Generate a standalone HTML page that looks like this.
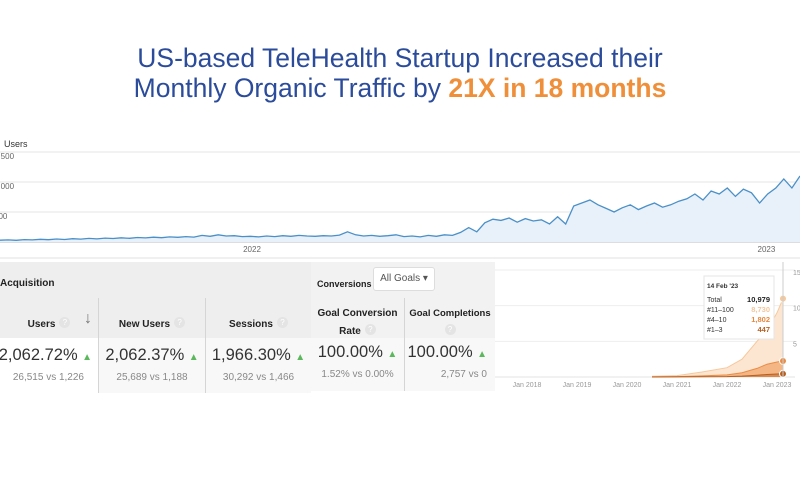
<!DOCTYPE html>
<html><head><meta charset="utf-8">
<style>
body{margin:0;width:800px;height:480px;background:#fff;overflow:hidden;font-family:"Liberation Sans",sans-serif;position:relative}
.title{position:absolute;left:0;width:800px;text-align:center;color:#2b4b9b;font-size:26.5px;line-height:30px;white-space:nowrap}
.cell{position:absolute;box-sizing:border-box;text-align:center;color:#222;white-space:nowrap}
.hd{font-weight:bold;font-size:10px}
.big{font-size:16.5px;color:#333}
.sm{font-size:10px;color:#888}
.q{display:inline-block;width:11px;height:11px;border-radius:50%;background:#e4e4e4;color:#fff;font-size:8px;line-height:11px;vertical-align:middle;margin-left:4px}
.up{color:#5cb85c;font-size:10px}
</style></head><body>
<div class="title" style="top:43px">US-based TeleHealth Startup Increased their</div>
<div class="title" style="top:73px">Monthly Organic Traffic by <b style="color:#ef8f3a">21X in 18 months</b></div>

<svg id="main" width="800" height="262" style="position:absolute;left:0;top:0"></svg>

<div>
<div class="cell" style="left:0;top:262px;width:311px;height:36px;background:#eeeeee;text-align:left;padding:11px 0 0 0"><span class="hd">Acquisition</span></div>
<div class="cell" style="left:311px;top:262px;width:184px;height:36px;background:#f2f2f2;text-align:left;padding:12px 0 0 6px"><span class="hd" style="font-size:9px">Conversions</span></div>
<div class="cell" style="left:373px;top:267px;width:62px;height:24px;background:#fff;border:1px solid #ddd;border-radius:3px;font-size:10px;color:#555;line-height:22px">All Goals &#9662;</div>

<div class="cell" style="left:0;top:298px;width:98px;height:40px;background:#eeeeee;padding-top:16px"><span class="hd">Users</span><span class="q">?</span><span style="position:absolute;right:6px;top:12px;color:#777">&#8595;</span></div>
<div class="cell" style="left:98px;top:298px;width:107px;height:40px;background:#eeeeee;border-left:1px solid #d5d5d5;padding-top:16px"><span class="hd">New Users</span><span class="q">?</span></div>
<div class="cell" style="left:205px;top:298px;width:106px;height:40px;background:#eeeeee;border-left:1px solid #d5d5d5;padding-top:16px"><span class="hd">Sessions</span><span class="q">?</span></div>
<div class="cell" style="left:311px;top:298px;width:93px;height:40px;background:#f2f2f2;padding-top:6px;line-height:16px"><span class="hd">Goal Conversion</span><br><span class="hd">Rate</span><span class="q">?</span></div>
<div class="cell" style="left:404px;top:298px;width:91px;height:40px;background:#f2f2f2;border-left:1px solid #d5d5d5;padding-top:6px;line-height:16px"><span class="hd" style="font-size:9.5px">Goal Completions</span><br><span class="q" style="margin:0">?</span></div>

<div class="cell" style="left:-20px;top:338px;width:118px;height:55px;background:#fff;padding-top:8px;text-align:right;padding-right:6px;line-height:18px"><span class="big">2,062.72%</span> <span class="up">&#9650;</span><br><span class="sm" style="margin-right:8px">26,515 vs 1,226</span></div>
<div class="cell" style="left:98px;top:338px;width:107px;height:55px;background:#f8f8f8;border-left:1px solid #d5d5d5;padding-top:8px;line-height:18px"><span class="big">2,062.37%</span> <span class="up">&#9650;</span><br><span class="sm">25,689 vs 1,188</span></div>
<div class="cell" style="left:205px;top:338px;width:106px;height:55px;background:#f8f8f8;border-left:1px solid #d5d5d5;padding-top:8px;line-height:18px"><span class="big">1,966.30%</span> <span class="up">&#9650;</span><br><span class="sm">30,292 vs 1,466</span></div>
<div class="cell" style="left:311px;top:338px;width:93px;height:53px;background:#f8f8f8;padding-top:5px;line-height:18px"><span class="big">100.00%</span> <span class="up">&#9650;</span><br><span class="sm">1.52% vs 0.00%</span></div>
<div class="cell" style="left:404px;top:338px;width:91px;height:53px;background:#f8f8f8;border-left:1px solid #d5d5d5;padding-top:5px;text-align:right;padding-right:8px;line-height:18px"><span class="big">100.00%</span> <span class="up">&#9650;</span><br><span class="sm">2,757 vs 0</span></div>
</div>

<svg id="kw" width="305" height="135" style="position:absolute;left:495px;top:260px"></svg>

<script>
const userValues=[30,35,28,40,35,45,38,50,42,55,48,60,52,65,58,70,62,75,68,80,72,85,78,90,82,110,95,120,100,105,90,95,85,100,90,105,95,110,100,95,105,100,115,170,120,100,110,95,105,120,90,100,85,110,95,120,110,160,240,170,320,380,360,400,330,390,350,370,300,420,300,600,650,700,620,560,500,570,620,540,600,650,580,620,680,720,800,700,850,800,900,760,880,820,650,800,900,1050,900,1100];
const userTicks=["1,500","1,000","500"];
const userTickVals=[1500,1000,500];
const yearLabels=["2022","2023"];
const yearPos=[0.315,0.958];

const kwDates=[2020.5,2021,2021.5,2022,2022.3,2022.6,2022.8,2023,2023.12];
const kwTotal=[100,200,700,1300,2500,5000,6500,9000,10979];
const kwTop10=[20,50,150,300,600,1200,1800,2100,2249];
const kwTop3=[5,10,30,60,120,250,350,420,447];
const kwYears=["Jan 2018","Jan 2019","Jan 2020","Jan 2021","Jan 2022","Jan 2023"];
const kwTicks=["15","10","5"];
const kwTickVals=[15000,10000,5000];

const NS="http://www.w3.org/2000/svg";
function mk(p,tag,attrs){const e=document.createElementNS(NS,tag);for(const k in attrs)e.setAttribute(k,attrs[k]);p.appendChild(e);return e;}

const m=document.getElementById('main');
const base=242, perPx=500/30;
const ym=v=>base-v/perPx;
const xm=i=>i*800/(userValues.length-1);
let t=mk(m,'text',{x:4,y:147,'font-size':9,fill:'#333'});t.textContent='Users';

userTickVals.forEach((v,i)=>{
 const g=mk(m,'line',{x1:0,x2:800,y1:ym(v),y2:ym(v),stroke:'#e6e6e6'});
 
 const l=mk(m,'text',{x:-6,y:ym(v)+7,'font-size':8,fill:'#666'});l.textContent=userTicks[i];
 
});
mk(m,'line',{x1:0,x2:800,y1:base,y2:base,stroke:'#bbb'});
let d='M0,'+base;userValues.forEach((v,i)=>d+=' L'+xm(i).toFixed(1)+','+ym(v).toFixed(1));
const area=mk(m,'path',{d:d+' L800,'+base+' Z',fill:'#e8f0f9'});

let d2='';userValues.forEach((v,i)=>d2+=(i?' L':'M')+xm(i).toFixed(1)+','+ym(v).toFixed(1));
const ln=mk(m,'path',{d:d2,fill:'none',stroke:'#4a90c8','stroke-width':1.3});

yearLabels.forEach((y,i)=>{const l=mk(m,'text',{x:yearPos[i]*800,y:252,'font-size':8,fill:'#666','text-anchor':'middle'});l.textContent=y;
 });
mk(m,'line',{x1:0,x2:800,y1:258,y2:258,stroke:'#e0e0e0'});

const k=document.getElementById('kw');
const kb=117, kpx=107/15000;
const yk=v=>kb-v*kpx;
const xk=yr=>32+(yr-2018)*50;
kwTickVals.forEach((v,i)=>{
 const g=mk(k,'line',{x1:0,x2:300,y1:yk(v),y2:yk(v),stroke:'#eee'});
 
 const l=mk(k,'text',{x:298,y:yk(v)+5,'font-size':7,fill:'#999'});l.textContent=kwTicks[i];
 
});
mk(k,'line',{x1:0,x2:300,y1:kb,y2:kb,stroke:'#e3e3e3'});
function areaPath(vals){let s='M'+xk(kwDates[0])+','+kb;vals.forEach((v,i)=>s+=' L'+xk(kwDates[i]).toFixed(1)+','+yk(v).toFixed(1));return s+' L'+xk(kwDates[kwDates.length-1])+','+kb+' Z';}
function linePath(vals){let s='';vals.forEach((v,i)=>s+=(i?' L':'M')+xk(kwDates[i]).toFixed(1)+','+yk(v).toFixed(1));return s;}
[[kwTotal,'#fce6d1','#f6c89c','total'],[kwTop10,'#f4b684','#ea8c45','top-10'],[kwTop3,'#d88a50','#b85f20','top-3']].forEach(([vals,f,s,n])=>{
 const a=mk(k,'path',{d:areaPath(vals),fill:f});
 
 const l=mk(k,'path',{d:linePath(vals),fill:'none',stroke:s,'stroke-width':1});
 
 const last=vals.length-1;
 const c=mk(k,'circle',{cx:xk(kwDates[last]),cy:yk(vals[last]),r:3.5,fill:s,stroke:'#fff','stroke-width':1});
 
});
const lastX=xk(kwDates[kwDates.length-1]);
mk(k,'line',{x1:lastX,x2:lastX,y1:2,y2:kb,stroke:'#ccc'});
kwYears.forEach((y,i)=>{const l=mk(k,'text',{x:xk(2018+i),y:127,'font-size':7,fill:'#999','text-anchor':'middle'});l.textContent=y;
 });
const tt=mk(k,'g',{});

mk(tt,'rect',{x:209,y:16,width:70,height:63,fill:'#fff',stroke:'#e5e5e5'});
const rows=[["14 Feb '23","",'#222',28,true],["Total","10,979",'#222',42],["#11–100","8,730",'#f3c79d',52],["#4–10","1,802",'#e8873e',62],["#1–3","447",'#b85f20',72]];
rows.forEach(r=>{const a=mk(tt,'text',{x:212,y:r[3],'font-size':r[4]?6.5:7,fill:'#333','font-weight':r[4]?'bold':'normal'});a.textContent=r[0];
 if(r[1]){const b=mk(tt,'text',{x:275,y:r[3],'font-size':7.5,fill:r[2],'font-weight':'bold','text-anchor':'end'});b.textContent=r[1];}});
</script>
</body></html>
